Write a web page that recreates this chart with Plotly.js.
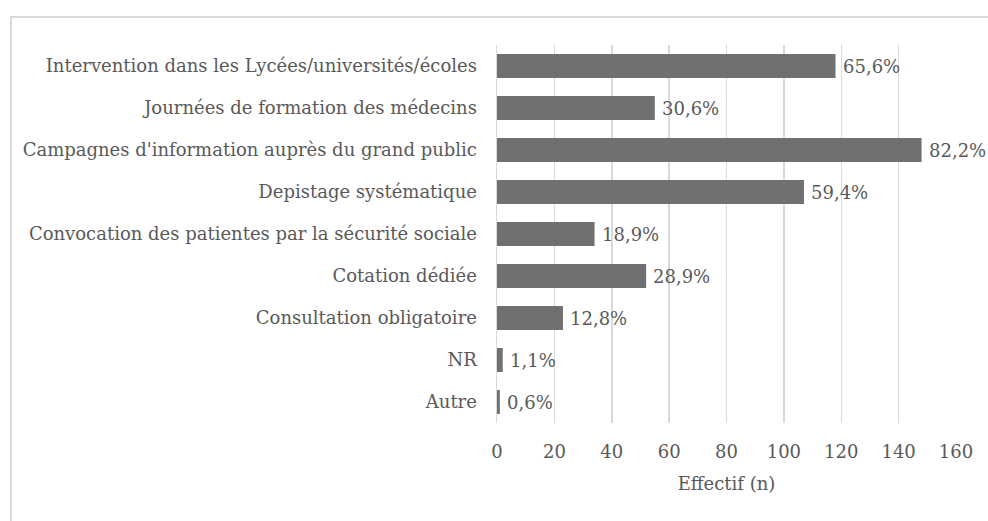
<!DOCTYPE html>
<html lang="fr">
<head>
    <meta charset="UTF-8">
    <title>Effectif (n)</title>
    <script src="https://cdn.plot.ly/plotly-3.0.1.min.js"></script>
    <style>
        body {
            margin: 0;
            background-color: white;
            overflow: hidden;
        }

        #cadre {
            position: absolute;
            left: 10px;
            top: 16px;
            width: 1200px;
            height: 700px;
            border-left: 2px solid #d9d9d9;
            border-top: 2px solid #d9d9d9;
        }

        #chart {
            position: absolute;
            left: 0;
            top: 0;
            width: 988px;
            height: 521px;
        }
    </style>
</head>
<body>
    <div id="cadre"></div>
    <div id="chart"></div>

    <script>
        // Catégories (de haut en bas) et effectifs
        const categories = [
            'Intervention dans les Lycées/universités/écoles',
            'Journées de formation des médecins',
            "Campagnes d'information auprès du grand public",
            'Depistage systématique',
            'Convocation des patientes par la sécurité sociale',
            'Cotation dédiée',
            'Consultation obligatoire',
            'NR',
            'Autre'
        ];
        const effectifs = [118, 55, 148, 107, 34, 52, 23, 2, 1];
        const pourcentages = ['65,6%', '30,6%', '82,2%', '59,4%', '18,9%', '28,9%', '12,8%', '1,1%', '0,6%'];
        const xTicks = [0, 20, 40, 60, 80, 100, 120, 140, 160];

        const police = 'DejaVu Serif, serif';
        const gris = '#595959';

        // Étiquettes de pourcentage à droite des barres
        const etiquettes = categories.map((c, i) => ({
            x: effectifs[i],
            y: c,
            xref: 'x',
            yref: 'y',
            text: pourcentages[i],
            showarrow: false,
            xanchor: 'left',
            xshift: 5,
            font: { family: police, size: 18, color: gris }
        }));

        const trace = {
            type: 'bar',
            orientation: 'h',
            x: effectifs,
            y: categories,
            marker: { color: '#707070' },
            hoverinfo: 'x+y'
        };

        const layout = {
            width: 988,
            height: 521,
            margin: { l: 497, r: 32, t: 45, b: 98 },
            paper_bgcolor: 'rgba(0,0,0,0)',
            plot_bgcolor: 'rgba(0,0,0,0)',
            showlegend: false,
            bargap: 0.43,
            font: { family: police, size: 18, color: gris },
            xaxis: {
                range: [0, 160],
                tickvals: xTicks,
                showgrid: true,
                gridcolor: '#d9d9d9',
                gridwidth: 1.5,
                zeroline: false,
                showline: false,
                ticks: '',
                ticklabelstandoff: 16,
                title: { text: 'Effectif (n)', standoff: 16, font: { family: police, size: 18, color: gris } }
            },
            yaxis: {
                autorange: 'reversed',
                showgrid: false,
                zeroline: false,
                showline: true,
                linecolor: '#d9d9d9',
                linewidth: 1.5,
                ticks: '',
                ticklabelstandoff: 15
            },
            annotations: etiquettes
        };

        Plotly.newPlot('chart', [trace], layout, { displayModeBar: false, staticPlot: true });
    </script>
</body>
</html>
